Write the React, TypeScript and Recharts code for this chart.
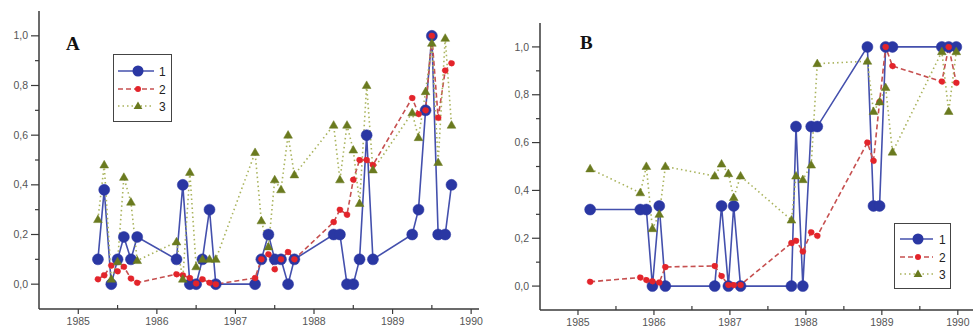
import React from 'react';
import { LineChart, Line, XAxis, YAxis, Legend } from 'recharts';

// ---------- Panel A data ----------
const yearsA = [
  1985.25, 1985.33, 1985.42, 1985.5, 1985.58, 1985.67, 1985.75,
  1986.25, 1986.33, 1986.42, 1986.5, 1986.58, 1986.67, 1986.75,
  1987.25, 1987.33, 1987.42, 1987.5, 1987.58, 1987.67, 1987.75,
  1988.25, 1988.33, 1988.42, 1988.5, 1988.58, 1988.67, 1988.75,
  1989.25, 1989.33, 1989.42, 1989.5, 1989.58, 1989.67, 1989.75,
];
const seriesA1 = [
  0.1, 0.38, 0, 0.1, 0.19, 0.1, 0.19,
  0.1, 0.4, 0, 0, 0.1, 0.3, 0,
  0, 0.1, 0.2, 0.1, 0.1, 0, 0.1,
  0.2, 0.2, 0, 0, 0.1, 0.6, 0.1,
  0.2, 0.3, 0.7, 1.0, 0.2, 0.2, 0.4,
];
const seriesA2 = [
  0.02, 0.036, 0.075, 0.052, 0.07, 0.023, 0.006,
  0.04, 0.036, 0.025, 0.003, 0.02, 0.006, 0.0,
  0.025, 0.1, 0.12, 0.06, 0.1, 0.13, 0.1,
  0.25, 0.3, 0.28, 0.42, 0.5, 0.5, 0.48,
  0.75, 0.685, 0.7, 1.0, 0.67, 0.86, 0.89,
];
const seriesA3 = [
  0.26, 0.48, 0.02, 0.09, 0.43, 0.33, 0.095,
  0.17, 0.02, 0.45, 0.07, 0.1, 0.1, 0.1,
  0.53, 0.255, 0.15, 0.42, 0.38, 0.6, 0.44,
  0.64, 0.42, 0.64, 0.54, 0.325, 0.8, 0.46,
  0.69, 0.59, 0.775, 0.97, 0.49, 0.99, 0.64,
];

// ---------- Panel B data ----------
const yearsB = [
  1985.16,
  1985.82, 1985.9, 1985.98, 1986.07, 1986.15,
  1986.8, 1986.89, 1986.98, 1987.05, 1987.14,
  1987.81, 1987.87, 1987.96, 1988.07, 1988.15,
  1988.81, 1988.89, 1988.97, 1989.05, 1989.14,
  1989.79, 1989.88, 1989.98,
];
const seriesB1 = [
  0.32,
  0.32, 0.32, 0, 0.335, 0,
  0, 0.335, 0, 0.335, 0,
  0, 0.667, 0, 0.667, 0.667,
  1.0, 0.335, 0.335, 1.0, 1.0,
  1.0, 1.0, 1.0,
];
const seriesB2 = [
  0.018,
  0.036, 0.025, 0.02, 0.015, 0.08,
  0.084, 0.042, 0.005, 0.005, 0.005,
  0.18, 0.19, 0.145, 0.225, 0.21,
  0.6, 0.524, 0.77, 1.0, 0.92,
  0.855, 1.0, 0.85,
];
const seriesB3 = [
  0.49,
  0.39, 0.5, 0.24, 0.3, 0.5,
  0.46, 0.51, 0.47, 0.37, 0.46,
  0.276, 0.46, 0.445, 0.506, 0.93,
  0.94, 0.73, 0.77, 0.83, 0.56,
  0.98, 0.73, 0.98,
];

const xTicks = [1985, 1985.5, 1986, 1986.5, 1987, 1987.5, 1988, 1988.5, 1989, 1989.5, 1990];
const yTicks = [0, 0.1, 0.2, 0.3, 0.4, 0.5, 0.6, 0.7, 0.8, 0.9, 1.0];
const seriesNames = ['1', '2', '3'];
const panelLabels = ['A', 'B'];

const buildRows = (xs: number[], s1: number[], s2: number[], s3: number[]) =>
  xs.map((x, i) => ({ x, s1: s1[i], s2: s2[i], s3: s3[i] }));

const dataA = buildRows(yearsA, seriesA1, seriesA2, seriesA3);
const dataB = buildRows(yearsB, seriesB1, seriesB2, seriesB3);

// ---------- styles ----------
const AXIS = '#3a3a3a';
const TICK_TEXT = '#555';
const BLUE_LINE = '#4450ad';
const BLUE_DOT = '#2a37a3';
const RED_LINE = '#c65050';
const RED_DOT = '#e3242b';
const GREEN_LINE = '#a9b35c';
const GREEN_DOT = '#6a7a1f';
const SANS = '"Liberation Sans", Arial, sans-serif';

const XTick = (props: any) => {
  const { x, y, payload } = props;
  const v = payload.value as number;
  const major = Math.abs(v - Math.round(v)) < 1e-6;
  return (
    <g>
      <line x1={x} x2={x} y1={y} y2={major ? y + 5 : y - 4} stroke={AXIS} strokeWidth={1.2} />
      {major && (
        <text x={x} y={y + 16} textAnchor="middle" fontSize={10.5} fill={TICK_TEXT} fontFamily={SANS}>
          {String(Math.round(v))}
        </text>
      )}
    </g>
  );
};

const YTick = (props: any) => {
  const { x, y, payload } = props;
  const v = payload.value as number;
  const major = Math.round(v * 10) % 2 === 0;
  return (
    <g>
      <line x1={x} x2={x - (major ? 8 : 4)} y1={y} y2={y} stroke={AXIS} strokeWidth={1.2} />
      {major && (
        <text x={x - 11} y={y} dy={3.6} textAnchor="end" fontSize={10.5} fill={TICK_TEXT} fontFamily={SANS}>
          {v.toFixed(1).replace('.', ',')}
        </text>
      )}
    </g>
  );
};

const triPath = (cx: number, cy: number, s: number) =>
  `M${cx},${cy - s} L${cx + s * 0.95},${cy + s * 0.65} L${cx - s * 0.95},${cy + s * 0.65} Z`;

const TriangleDot = (props: any) => {
  const { cx, cy, index } = props;
  if (cx == null || cy == null) return <g key={`t-${index}`} />;
  return <path key={`t-${index}`} d={triPath(cx, cy, 4.6)} fill={GREEN_DOT} stroke={GREEN_DOT} strokeWidth={0.5} />;
};

const LegendBox = ({ w, h, rows, lineX1, lineX2, markX, labelX }: any) => (
  <div style={{ width: w, height: h, border: '1.2px solid #444', background: '#fff', boxSizing: 'border-box' }}>
    <svg width={w - 2} height={h - 2} style={{ display: 'block' }}>
      {/* series 1 */}
      <line x1={lineX1} x2={lineX2} y1={rows[0]} y2={rows[0]} stroke={BLUE_LINE} strokeWidth={1.6} />
      <circle cx={markX} cy={rows[0]} r={5.5} fill={BLUE_DOT} />
      <text x={labelX} y={rows[0] + 4.5} fontSize={12} fontFamily={SANS} fill="#222">{seriesNames[0]}</text>
      {/* series 2 */}
      <line x1={lineX1} x2={lineX2} y1={rows[1]} y2={rows[1]} stroke={RED_LINE} strokeWidth={1.6} strokeDasharray="5 3" />
      <circle cx={markX} cy={rows[1]} r={3} fill={RED_DOT} />
      <text x={labelX} y={rows[1] + 4.5} fontSize={12} fontFamily={SANS} fill="#222">{seriesNames[1]}</text>
      {/* series 3 */}
      <line x1={lineX1} x2={lineX2} y1={rows[2]} y2={rows[2]} stroke={GREEN_LINE} strokeWidth={1.6} strokeDasharray="1.5 3" />
      <path d={triPath(markX, rows[2], 4.6)} fill={GREEN_DOT} />
      <text x={labelX} y={rows[2] + 4.5} fontSize={12} fontFamily={SANS} fill="#222">{seriesNames[2]}</text>
    </svg>
  </div>
);

const renderSeries = () => [
  <Line
    key="s1"
    type="linear"
    dataKey="s1"
    name={seriesNames[0]}
    stroke={BLUE_LINE}
    strokeWidth={1.6}
    dot={{ r: 5.5, fill: BLUE_DOT, stroke: BLUE_DOT, strokeWidth: 0.5 }}
    activeDot={false}
    isAnimationActive={false}
  />,
  <Line
    key="s2"
    type="linear"
    dataKey="s2"
    name={seriesNames[1]}
    stroke={RED_LINE}
    strokeWidth={1.6}
    strokeDasharray="5 3"
    dot={{ r: 3, fill: RED_DOT, stroke: RED_DOT, strokeWidth: 0.5 }}
    activeDot={false}
    isAnimationActive={false}
  />,
  <Line
    key="s3"
    type="linear"
    dataKey="s3"
    name={seriesNames[2]}
    stroke={GREEN_LINE}
    strokeWidth={1.6}
    strokeDasharray="1.5 3"
    dot={TriangleDot}
    activeDot={false}
    isAnimationActive={false}
  />,
];

const titleStyle: React.CSSProperties = {
  position: 'absolute',
  fontFamily: '"Liberation Serif", "DejaVu Serif", serif',
  fontWeight: 'bold',
  fontSize: 19,
  lineHeight: '19px',
  color: '#111',
};

export default function App() {
  return (
    <div style={{ position: 'absolute', left: 0, top: 0, width: 977, height: 335, background: '#fff', overflow: 'hidden' }}>
      <div style={{ position: 'absolute', left: 0, top: 0 }}>
        <LineChart width={490} height={335} data={dataA} margin={{ top: 11, right: 11, bottom: 0, left: 0 }}>
          <XAxis
            dataKey="x"
            type="number"
            domain={[1984.5, 1990.1]}
            ticks={xTicks}
            tick={<XTick />}
            tickLine={false}
            tickSize={0}
            tickMargin={0}
            height={26}
            axisLine={{ stroke: AXIS, strokeWidth: 1.5 }}
            interval={0}
          />
          <YAxis
            type="number"
            domain={[-0.1, 1.1]}
            ticks={yTicks}
            tick={<YTick />}
            tickLine={false}
            tickSize={0}
            tickMargin={0}
            width={39}
            axisLine={{ stroke: AXIS, strokeWidth: 1.5 }}
            interval={0}
          />
          <Legend
            layout="vertical"
            align="center"
            verticalAlign="middle"
            wrapperStyle={{ left: 113, top: 54, width: 59, height: 68 }}
            content={() => (
              <LegendBox w={59} h={68} rows={[16, 34, 51]} lineX1={4} lineX2={40} markX={24} labelX={45} />
            )}
          />
          {renderSeries()}
        </LineChart>
      </div>
      <div style={{ position: 'absolute', left: 490, top: 0 }}>
        <LineChart width={487} height={335} data={dataB} margin={{ top: 23, right: 4, bottom: 0, left: 0 }}>
          <XAxis
            dataKey="x"
            type="number"
            domain={[1984.5, 1990.2]}
            ticks={xTicks}
            tick={<XTick />}
            tickLine={false}
            tickSize={0}
            tickMargin={0}
            height={25}
            axisLine={{ stroke: AXIS, strokeWidth: 1.5 }}
            interval={0}
          />
          <YAxis
            type="number"
            domain={[-0.1, 1.1]}
            ticks={yTicks}
            tick={<YTick />}
            tickLine={false}
            tickSize={0}
            tickMargin={0}
            width={50}
            axisLine={{ stroke: AXIS, strokeWidth: 1.5 }}
            interval={0}
          />
          <Legend
            layout="vertical"
            align="center"
            verticalAlign="middle"
            wrapperStyle={{ left: 404, top: 223, width: 57, height: 66 }}
            content={() => (
              <LegendBox w={57} h={66} rows={[15, 33, 50]} lineX1={5} lineX2={38} markX={23} labelX={44} />
            )}
          />
          {renderSeries()}
        </LineChart>
      </div>
      <div style={{ ...titleStyle, left: 66, top: 34 }}>{panelLabels[0]}</div>
      <div style={{ ...titleStyle, left: 580, top: 33 }}>{panelLabels[1]}</div>
    </div>
  );
}
